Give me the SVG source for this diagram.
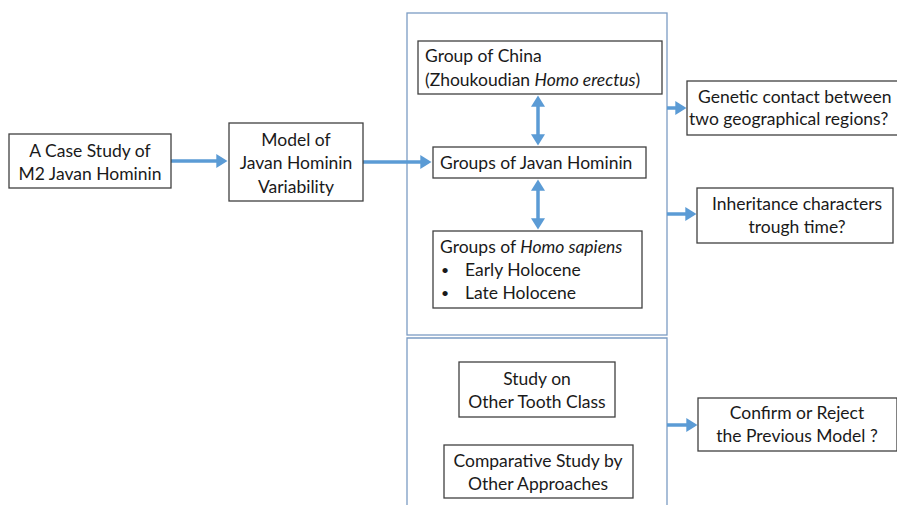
<svg xmlns="http://www.w3.org/2000/svg" width="897" height="505" viewBox="0 0 897 505">
<defs>
<marker id="ah" markerWidth="4" markerHeight="4" refX="2.2" refY="2" orient="auto-start-reverse" markerUnits="strokeWidth">
<path d="M0,0 L3.2,2 L0,4 Z" fill="#5b9bd5"/>
</marker>
<style>
.box{fill:#fff;stroke:#404040;stroke-width:1.3}
.panel{fill:none;stroke:#7b9cc4;stroke-width:1.3}
.t{font-family:Lato,"Open Sans","Liberation Sans",sans-serif;font-size:17.5px;fill:#1a1a1a}
.c{text-anchor:middle}
.b{font-size:14px}
.con{stroke:#5b9bd5;stroke-width:3.5;fill:none}
</style>
</defs>
<rect width="897" height="505" fill="#fff"/>
<g id="panels">
<rect class="panel" x="407" y="13" width="260" height="322"/>
<path class="panel" d="M407,510 V338 H667 V510"/>
</g>
<g id="connectors">
<line class="con" x1="171" y1="161" x2="224" y2="161" marker-end="url(#ah)"/>
<line class="con" x1="363" y1="162" x2="428" y2="162" marker-end="url(#ah)"/>
<line class="con" x1="538" y1="99" x2="538" y2="142" marker-start="url(#ah)" marker-end="url(#ah)"/>
<line class="con" x1="538" y1="183" x2="538" y2="226" marker-start="url(#ah)" marker-end="url(#ah)"/>
<line class="con" x1="667" y1="108" x2="683" y2="108" marker-end="url(#ah)"/>
<line class="con" x1="667" y1="214" x2="693" y2="214" marker-end="url(#ah)"/>
<line class="con" x1="667" y1="425" x2="694" y2="425" marker-end="url(#ah)"/>
</g>
<g id="case-study">
<rect class="box" x="9" y="134" width="162" height="54"/>
<text class="t c" x="90" y="157">A Case Study of</text>
<text class="t c" x="90" y="180">M2 Javan Hominin</text>
</g>
<g id="model">
<rect class="box" x="229" y="123" width="134" height="78"/>
<text class="t c" x="296" y="146">Model of</text>
<text class="t c" x="296" y="169">Javan Hominin</text>
<text class="t c" x="296" y="193">Variability</text>
</g>
<g id="china">
<rect class="box" x="418" y="41" width="244" height="53"/>
<text class="t" x="425" y="62">Group of China</text>
<text class="t" x="425" y="86">(Zhoukoudian <tspan font-style="italic">Homo erectus</tspan>)</text>
</g>
<g id="javan">
<rect class="box" x="433" y="147" width="213" height="31"/>
<text class="t" x="440" y="169">Groups of Javan Hominin</text>
</g>
<g id="sapiens">
<rect class="box" x="433" y="231" width="209" height="77"/>
<text class="t" x="440" y="253">Groups of <tspan font-style="italic">Homo sapiens</tspan></text>
<text class="t b" x="441" y="275">•</text>
<text class="t" x="465" y="276">Early Holocene</text>
<text class="t b" x="441" y="298">•</text>
<text class="t" x="465" y="299">Late Holocene</text>
</g>
<g id="genetic">
<rect class="box" x="687" y="81" width="212" height="54"/>
<text class="t" x="698" y="103">Genetic contact between</text>
<text class="t" x="689" y="125">two geographical regions?</text>
</g>
<g id="inheritance">
<rect class="box" x="697" y="188" width="196" height="55"/>
<text class="t c" x="797" y="210">Inheritance characters</text>
<text class="t c" x="797" y="233">trough time?</text>
</g>
<g id="tooth">
<rect class="box" x="459" y="362" width="156" height="55"/>
<text class="t c" x="537" y="385">Study on</text>
<text class="t c" x="537" y="408">Other Tooth Class</text>
</g>
<g id="comparative">
<rect class="box" x="444" y="445" width="189" height="53"/>
<text class="t c" x="538" y="467">Comparative Study by</text>
<text class="t c" x="538" y="490">Other Approaches</text>
</g>
<g id="confirm">
<rect class="box" x="698" y="398" width="199" height="53"/>
<text class="t c" x="797" y="419">Confirm or Reject</text>
<text class="t c" x="797" y="442">the Previous Model ?</text>
</g>
</svg>
